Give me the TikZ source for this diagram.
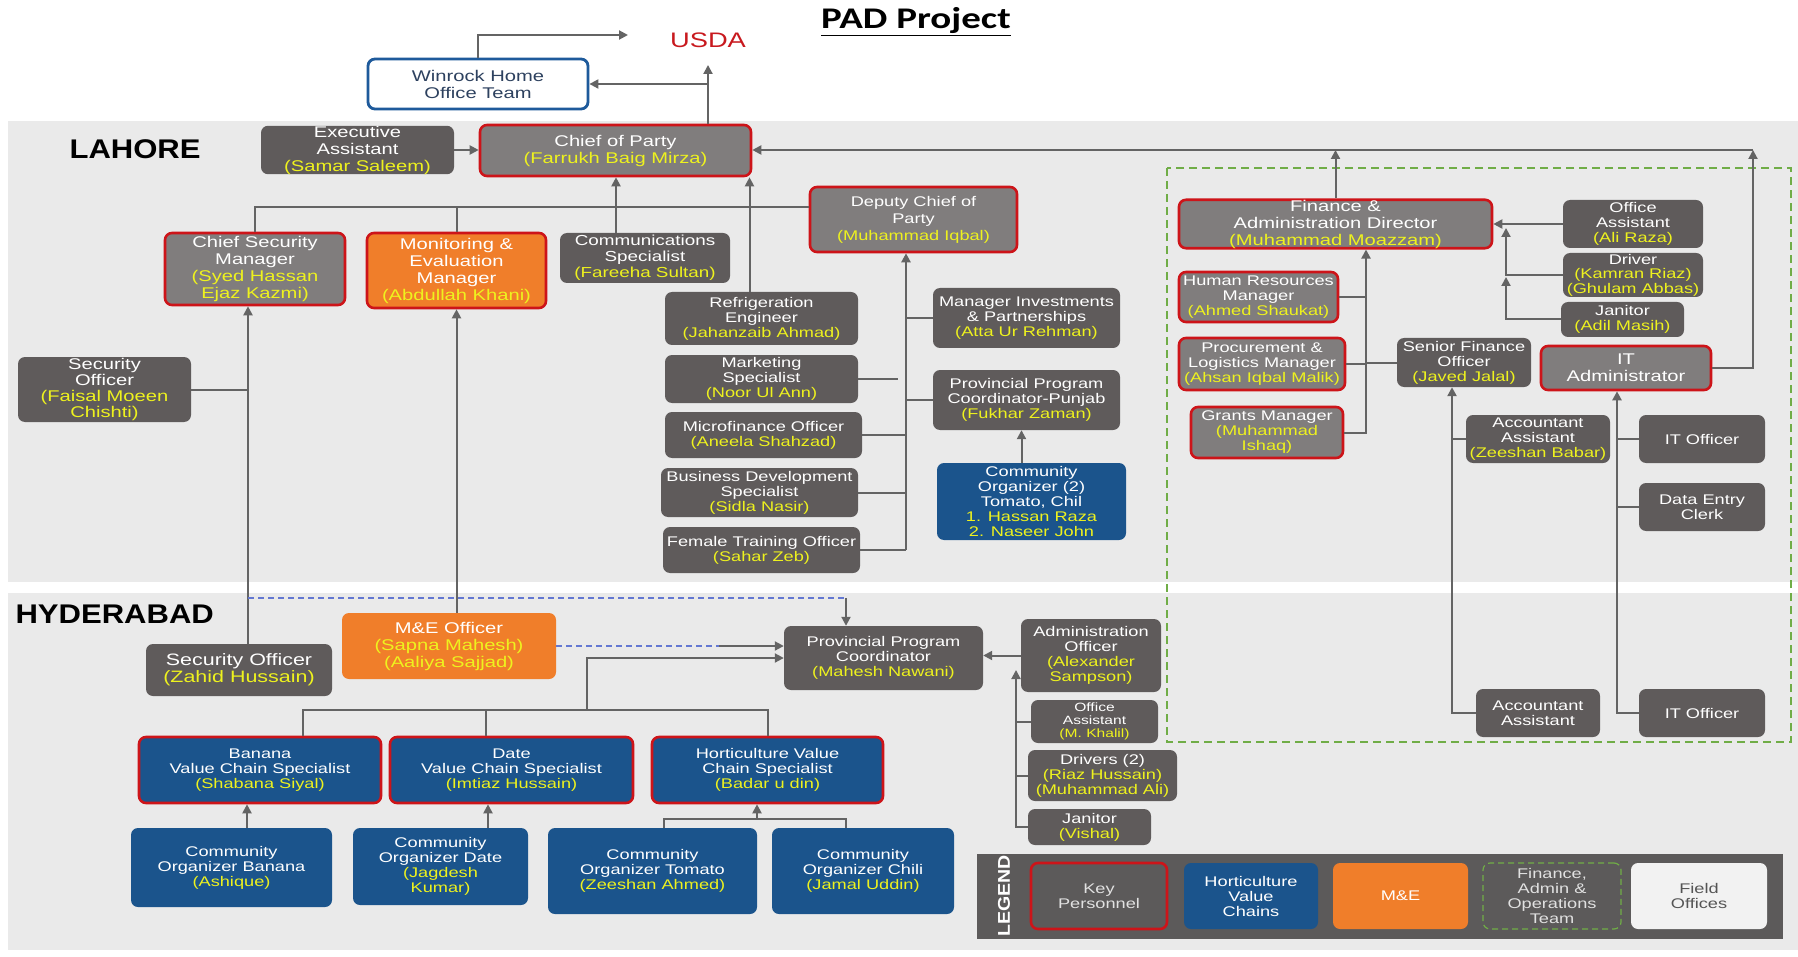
\documentclass[tikz,border=0pt]{standalone}
\usepackage{fontspec}
\usetikzlibrary{arrows.meta,calc}
\newfontfamily\fA[FakeStretch=1.3]{Liberation Sans}
\newfontfamily\fB[FakeStretch=1.15]{Liberation Sans}
\newfontfamily\fC[FakeStretch=1.3]{Carlito}
\definecolor{dgrey}{RGB}{95,91,91}
\definecolor{kgrey}{RGB}{128,125,125}
\definecolor{kred}{RGB}{205,20,25}
\definecolor{orng}{RGB}{240,126,42}
\definecolor{vblue}{RGB}{27,84,140}
\definecolor{nyel}{RGB}{238,242,30}
\definecolor{lgr}{RGB}{100,100,100}
\definecolor{band}{RGB}{234,234,234}
\definecolor{dblue}{RGB}{100,120,210}
\definecolor{fgreen}{RGB}{112,173,71}
\definecolor{wblue}{RGB}{30,90,155}
\definecolor{wtext}{RGB}{45,65,95}
\definecolor{usred}{RGB}{200,25,30}
\definecolor{legbar}{RGB}{92,90,90}
\definecolor{ltext}{RGB}{225,225,225}
\definecolor{fowhite}{RGB}{242,242,242}
\definecolor{fotext}{RGB}{85,85,85}
\newcommand\nm[1]{\textcolor{nyel}{#1}}
\tikzset{
 bx/.style={rounded corners=7pt, align=center, inner sep=0pt, text=white, font=\fA\fontsize{14}{15}\selectfont},
 big/.style={font=\fA\fontsize{15.5}{17}\selectfont},
 sz/.style 2 args={minimum width=#1pt, minimum height=#2pt},
 dg/.style={bx, fill=dgrey},
 kp/.style={bx, fill=kgrey, draw=kred, line width=2.6pt},
 orb/.style={bx, fill=orng, draw=kred, line width=2.6pt},
 org/.style={bx, fill=orng},
 blb/.style={bx, fill=vblue, draw=kred, line width=2.6pt},
 blu/.style={bx, fill=vblue},
 ln/.style={draw=lgr, line width=2pt},
 arr/.style={ln, -{Triangle[length=9pt,width=9pt]}},
 bdash/.style={draw=dblue, line width=1.2pt, dash pattern=on 6pt off 4pt},
 region/.style={font=\fB\bfseries\fontsize{27}{27}\selectfont, anchor=west},
}
\begin{document}
\begin{tikzpicture}[x=1pt,y=-1pt]
\fill[white] (0,0) rectangle (1798,957);
\useasboundingbox (0,0) rectangle (1798,957);
% bands
\fill[band] (8,121) rectangle (1798,582);
\fill[band] (8,593) rectangle (1798,950);
\draw[fgreen, line width=1.2pt, dash pattern=on 8pt off 5pt] (1167,168) rectangle (1791,742);

% header
\node[font=\fC\bfseries\fontsize{30}{30}\selectfont] (title) at (916,22) {\underline{PAD Project}};
\node[font=\fA\fontsize{21}{21}\selectfont, text=usred] (usda) at (708,40) {USDA};
\node[bx, big, fill=white, draw=wblue, line width=2.8pt, text=wtext, sz={220}{50}] (winrock) at (478,84) {Winrock Home\\Office Team};

% region labels
\node[region] (lah) at (66,149) {LAHORE};
\node[region] (hyd) at (12,614) {HYDERABAD};

% Lahore
\node[dg, big, sz={193}{48}] (exec) at (357.5,150) {Executive\\Assistant\\\nm{(Samar Saleem)}};
\node[kp, big, sz={271}{51}] (cop) at (615.5,150.5) {Chief of Party\\\nm{(Farrukh Baig Mirza)}};
\node[kp, big, sz={180}{72}] (csm) at (255,269) {Chief Security\\Manager\\\nm{(Syed Hassan}\\\nm{Ejaz Kazmi)}};
\node[orb, big, sz={179}{75}] (mem) at (456.5,270.5) {Monitoring \&\\Evaluation\\Manager\\\nm{(Abdullah Khani)}};
\node[dg, font=\fA\fontsize{14.5}{16}\selectfont, sz={170}{50}] (comms) at (645,258) {Communications\\Specialist\\\nm{(Fareeha Sultan)}};
\node[kp, font=\fA\fontsize{14}{17}\selectfont, sz={207}{65}] (dcop) at (913.5,219.5) {Deputy Chief of\\Party\\\nm{(Muhammad Iqbal)}};
\node[dg, font=\fA\fontsize{15.5}{16}\selectfont, sz={173}{65}] (secoff) at (104.5,389.5) {Security\\Officer\\\nm{(Faisal Moeen}\\\nm{Chishti)}};
\node[dg, sz={193}{53}] (refeng) at (761.5,318.5) {Refrigeration\\Engineer\\\nm{(Jahanzaib Ahmad)}};
\node[dg, sz={193}{48}] (mkt) at (761.5,379) {Marketing\\Specialist\\\nm{(Noor Ul Ann)}};
\node[dg, sz={197}{46}] (micro) at (763.5,435) {Microfinance Officer\\\nm{(Aneela Shahzad)}};
\node[dg, sz={197}{49}] (bds) at (759.5,492.5) {Business Development\\Specialist\\\nm{(Sidla Nasir)}};
\node[dg, sz={197}{46}] (fto) at (761.5,550) {Female Training Officer\\\nm{(Sahar Zeb)}};
\node[dg, sz={187}{60}] (mip) at (1026.5,318) {Manager Investments\\\& Partnerships\\\nm{(Atta Ur Rehman)}};
\node[dg, sz={187}{60}] (ppcp) at (1026.5,400) {Provincial Program\\Coordinator-Punjab\\\nm{(Fukhar Zaman)}};
\node[blu, sz={189}{77}] (co2) at (1031.5,501.5) {Community\\Organizer (2)\\Tomato, Chil\\\nm{1. Hassan Raza}\\\nm{2. Naseer John}};

% Finance / admin
\node[kp, big, sz={313}{48}] (fad) at (1335.5,224) {Finance \&\\Administration Director\\\nm{(Muhammad Moazzam)}};
\node[kp, sz={159}{50}] (hrm) at (1258.5,297) {Human Resources\\Manager\\\nm{(Ahmed Shaukat)}};
\node[kp, sz={166}{52}] (plm) at (1262,364) {Procurement \&\\Logistics Manager\\\nm{(Ahsan Iqbal Malik)}};
\node[kp, sz={152}{51}] (gm) at (1267,432.5) {Grants Manager\\\nm{(Muhammad}\\\nm{Ishaq)}};
\node[dg, sz={134}{49}] (sfo) at (1464,362.5) {Senior Finance\\Officer\\\nm{(Javed Jalal)}};
\node[dg, sz={140}{48}] (oa) at (1633,224) {Office\\Assistant\\\nm{(Ali Raza)}};
\node[dg, font=\fA\fontsize{14}{14.5}\selectfont, sz={140}{44}] (drv) at (1633,275) {Driver\\\nm{(Kamran Riaz)}\\\nm{(Ghulam Abbas)}};
\node[dg, sz={123}{35}] (jan) at (1622.5,319.5) {Janitor\\\nm{(Adil Masih)}};
\node[kp, big, sz={170}{44}] (ita) at (1626,368) {IT\\Administrator};
\node[dg, sz={144}{48}] (aa1) at (1538,439) {Accountant\\Assistant\\\nm{(Zeeshan Babar)}};
\node[dg, sz={126}{48}] (ito1) at (1702,439) {IT Officer};
\node[dg, sz={126}{48}] (dec) at (1702,507) {Data Entry\\Clerk};
\node[dg, sz={124}{48}] (aa2) at (1538,713) {Accountant\\Assistant};
\node[dg, sz={126}{48}] (ito2) at (1702,713) {IT Officer};

% Hyderabad
\node[dg, font=\fA\fontsize{16.5}{17}\selectfont, sz={186}{52}] (so2) at (239,670) {Security Officer\\\nm{(Zahid Hussain)}};
\node[org, big, sz={214}{66}] (meo) at (449,646) {M\&E Officer\\\nm{(Sapna Mahesh)}\\\nm{(Aaliya Sajjad)}};
\node[dg, sz={199}{64}] (ppch) at (883.5,658) {Provincial Program\\Coordinator\\\nm{(Mahesh Nawani)}};
\node[blb, sz={242}{66}] (bvc) at (260,770) {Banana\\Value Chain Specialist\\\nm{(Shabana Siyal)}};
\node[blb, sz={243}{66}] (dvc) at (511.5,770) {Date\\Value Chain Specialist\\\nm{(Imtiaz Hussain)}};
\node[blb, sz={231}{66}] (hvc) at (767.5,770) {Horticulture Value\\Chain Specialist\\\nm{(Badar u din)}};
\node[blu, sz={201}{79}] (cob) at (231.5,867.5) {Community\\Organizer Banana\\\nm{(Ashique)}};
\node[blu, sz={175}{77}] (cod) at (440.5,866.5) {Community\\Organizer Date\\\nm{(Jagdesh}\\\nm{Kumar)}};
\node[blu, sz={209}{86}] (cot) at (652.5,871) {Community\\Organizer Tomato\\\nm{(Zeeshan Ahmed)}};
\node[blu, sz={182}{86}] (coc) at (863,871) {Community\\Organizer Chili\\\nm{(Jamal Uddin)}};
\node[dg, sz={140}{73}] (ao) at (1091,655.5) {Administration\\Officer\\\nm{(Alexander}\\\nm{Sampson)}};
\node[dg, font=\fA\fontsize{12}{13}\selectfont, sz={127}{43}] (oa2) at (1094.5,721.5) {Office\\Assistant\\\nm{(M. Khalil)}};
\node[dg, sz={149}{51}] (drv2) at (1102.5,775.5) {Drivers (2)\\\nm{(Riaz Hussain)}\\\nm{(Muhammad Ali)}};
\node[dg, sz={123}{36}] (jan2) at (1089.5,827) {Janitor\\\nm{(Vishal)}};

% Legend
\fill[legbar] (977,854) rectangle (1783,939);
\node[rotate=90, font=\fB\bfseries\fontsize{17}{17}\selectfont, text=white] (leg) at (1004,896) {LEGEND};
\node[bx, fill=legbar, draw=kred, line width=2.6pt, text=ltext, sz={136}{66}] (lkp) at (1099,896) {Key\\Personnel};
\node[blu, sz={134}{66}] (lhvc) at (1251,896) {Horticulture\\Value\\Chains};
\node[org, sz={135}{66}] (lme) at (1400.5,896) {M\&E};
\node[bx, draw=fgreen, line width=1.2pt, dash pattern=on 6pt off 4pt, text=ltext, sz={138}{66}] (lfao) at (1552,896) {Finance,\\Admin \&\\Operations\\Team};
\node[bx, fill=fowhite, text=fotext, sz={136}{66}] (lfo) at (1699,896) {Field\\Offices};

% coordinates
\coordinate (ua) at (628,35);
\coordinate (ui) at (708,65);
\coordinate (tr) at (1753,150);
\coordinate (dl) at ([yshift=12.5pt]dcop.west);
\coordinate (cm) at ([xshift=-29pt]comms.north);
\coordinate (rf) at ([xshift=-12pt]refeng.north);
\coordinate (sv) at ([xshift=9pt]so2.north);
\coordinate (dv) at ([xshift=-7.5pt]dcop.south);
\coordinate (c2) at ([xshift=-10pt]co2.north);
\coordinate (fv) at ([xshift=30.5pt]fad.south);
\coordinate (jv) at (1506,277);
\coordinate (jt) at (1506,228);
\coordinate (sv2) at ([xshift=-12pt]sfo.south);
\coordinate (iv) at ([xshift=-9pt]ita.south);
\coordinate (bd) at (248,598);
\coordinate (pn) at ([xshift=-37.5pt]ppch.north);
\coordinate (bt) at ([xshift=43pt]bvc.north);
\coordinate (dt) at ([xshift=-25.5pt]dvc.north);
\coordinate (vt) at (587,710);
\coordinate (cb) at ([xshift=15.5pt]cob.north);
\coordinate (cd) at ([xshift=47.5pt]cod.north);
\coordinate (tt) at ([xshift=11.5pt]cot.north);
\coordinate (ht) at ([xshift=-17pt]coc.north);
\coordinate (ct) at (757,819);
\coordinate (av) at (1016,670);

% connectors: top
\draw[arr] (winrock.north) |- (ua);
\draw[arr] (cop.north -| ui) -- (ui);
\draw[arr] (ui |- winrock.east) -- (winrock.east);
\draw[arr] (exec.east) -- (exec.east -| cop.west);
\draw[arr] (ita.east) -| (tr);
\draw[arr] (tr) -- (tr -| cop.east);
\draw[arr] (fad.north) -- (fad.north |- tr);
% Lahore left
\draw[ln] (csm.north) |- (dl);
\draw[ln] (mem.north) -- (mem.north |- dl);
\draw[arr] (cm) -- (cm |- cop.south);
\draw[arr] (rf) -- (rf |- cop.south);
\draw[arr] (sv) -- (sv |- csm.south);
\draw[ln] (secoff.east) -- (secoff.east -| sv);
\draw[arr] (meo.north -| mem.south) -- (mem.south);
% DCoP column
\draw[arr, line width=2.4pt] (fto.east -| dv) -- (dv);
\draw[ln] (fto.east) -- (fto.east -| dv);
\draw[ln] (bds.east) -- (bds.east -| dv);
\draw[ln] (micro.east) -- (micro.east -| dv);
\draw[ln] (mkt.east) -- ++(40,0);
\draw[ln] (mip.west) -- (mip.west -| dv);
\draw[ln] (ppcp.west) -- (ppcp.west -| dv);
\draw[arr] (c2) -- (c2 |- ppcp.south);
% Finance
\draw[arr] (gm.east) -| (fv);
\draw[ln] (hrm.east) -- (hrm.east -| fv);
\draw[ln] (plm.east) -- (plm.east -| fv);
\draw[ln] (sfo.west) -- (sfo.west -| fv);
\draw[arr] (oa.west) -- (fad.east);
\draw[arr] (jan.west) -| (jv);
\draw[arr] (drv.west) -| (jt);
\draw[arr, line width=2.6pt] (aa2.west) -| (sv2);
\draw[ln] (aa1.west) -- (aa1.west -| sv2);
\draw[arr, line width=2.6pt] (ito2.west) -| (iv);
\draw[ln] (ito1.west) -- (ito1.west -| iv);
\draw[ln] (dec.west) -- (dec.west -| iv);
% Hyderabad
\draw[bdash] (bd) -- (bd -| pn);
\draw[arr] (bd -| pn) -- (pn);
\draw[bdash] (meo.east) -- ++(163,0) coordinate (md);
\draw[arr] (md) -- (md -| ppch.west);
\draw[ln] (bt) -- (bt |- vt) -- (vt -| hvc.north) -- (hvc.north);
\draw[ln] (dt) -- (dt |- vt);
\draw[arr] (vt) |- (ppch.west);
\draw[arr] (cb) -- (cb |- bvc.south);
\draw[arr] (cd) -- (cd |- dvc.south);
\draw[ln] (tt) -- (tt |- ct) -- (ct -| ht) -- (ht);
\draw[arr] (ct) -- (ct |- hvc.south);
\draw[arr] (ao.west) -- (ao.west -| ppch.east);
\draw[arr] (jan2.west) -| (av);
\draw[ln] (oa2.west) -- (oa2.west -| av);
\draw[ln] (drv2.west) -- (drv2.west -| av);
\end{tikzpicture}
\end{document}
